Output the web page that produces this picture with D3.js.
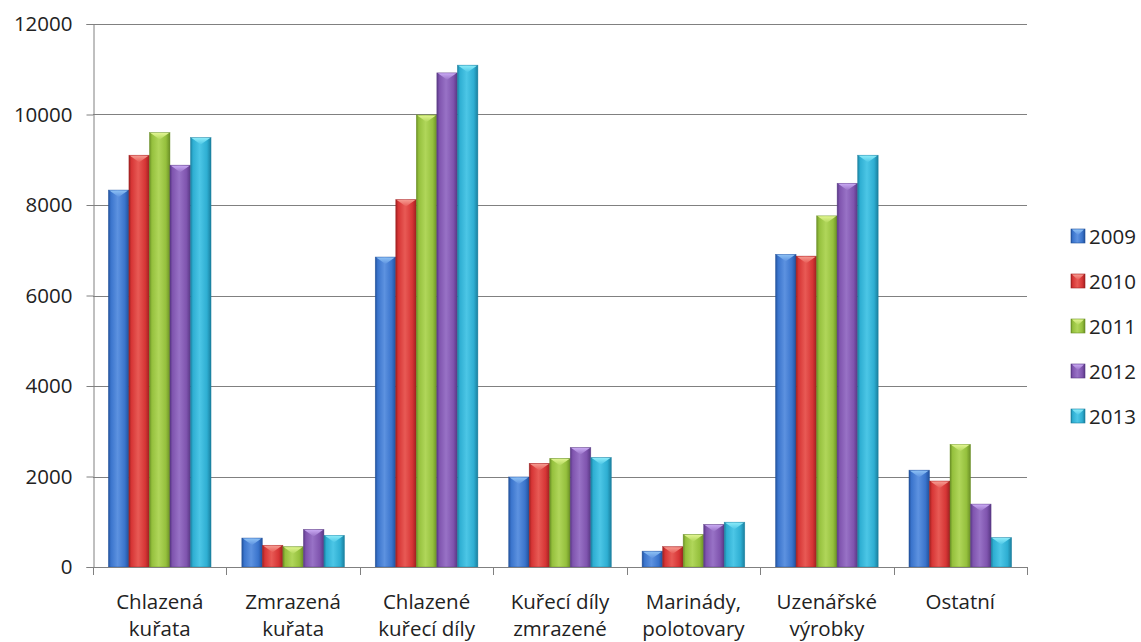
<!DOCTYPE html>
<html>
<head>
<meta charset="utf-8">
<script src="https://cdn.jsdelivr.net/npm/d3@7"></script>
<style>
  html, body { margin: 0; padding: 0; background: #fff; }
  svg text { font-family: "Open Sans", "Noto Sans", sans-serif; fill: #222; }
</style>
</head>
<body>
<svg id="chart" width="1141" height="642"></svg>
<script>
// Product categories (two-line labels)
const categories = [
  ["Chlazená", "kuřata"],
  ["Zmrazená", "kuřata"],
  ["Chlazené", "kuřecí díly"],
  ["Kuřecí díly", "zmrazené"],
  ["Marinády,", "polotovary"],
  ["Uzenářské", "výrobky"],
  ["Ostatní"]
];
const years = ["2009", "2010", "2011", "2012", "2013"];

// Values per year, one entry per category
const v2009 = [8330, 640, 6850, 1990, 350, 6910, 2140];
const v2010 = [9100, 480, 8120, 2290, 450, 6870, 1900];
const v2011 = [9600, 450, 9990, 2400, 720, 7760, 2710];
const v2012 = [8880, 830, 10920, 2640, 940, 8480, 1390];
const v2013 = [9490, 700, 11090, 2420, 990, 9100, 650];

const yTicks = [0, 2000, 4000, 6000, 8000, 10000, 12000];

const seriesValues = [v2009, v2010, v2011, v2012, v2013];
const palette = [
  { base: "#3a74cc", dark: "#21509a", light: "#5d92e0", cap: "#8cc0f4" },
  { base: "#d63535", dark: "#9e2020", light: "#e85a55", cap: "#f59a90" },
  { base: "#95c03d", dark: "#6a8f25", light: "#b0d65a", cap: "#e0f490" },
  { base: "#7f54ae", dark: "#583884", light: "#9872c6", cap: "#c8a8f2" },
  { base: "#2eaed2", dark: "#1a7f9e", light: "#4cc6e6", cap: "#8aeaf8" }
];

const svg = d3.select("#chart");
const plot = { left: 93, right: 1027, top: 24, bottom: 567 };

const x0 = d3.scaleBand()
  .domain(d3.range(categories.length))
  .range([plot.left, plot.right])
  .padding(0);
const x1 = d3.scaleBand()
  .domain(years)
  .range([0, x0.bandwidth()])
  .paddingInner(0)
  .paddingOuter(0.75);
const y = d3.scaleLinear().domain([0, 12000]).range([plot.bottom, plot.top]);

// Gradients for the shaded bars
const defs = svg.append("defs");
palette.forEach((c, i) => {
  const g = defs.append("linearGradient")
    .attr("id", "bar" + i).attr("x1", "0").attr("x2", "1").attr("y1", "0").attr("y2", "0");
  g.append("stop").attr("offset", "0%").attr("stop-color", c.dark);
  g.append("stop").attr("offset", "12%").attr("stop-color", c.base);
  g.append("stop").attr("offset", "45%").attr("stop-color", c.light);
  g.append("stop").attr("offset", "80%").attr("stop-color", c.base);
  g.append("stop").attr("offset", "100%").attr("stop-color", c.dark);
  const cg = defs.append("linearGradient")
    .attr("id", "cap" + i).attr("x1", "0").attr("x2", "0").attr("y1", "0").attr("y2", "1");
  cg.append("stop").attr("offset", "0%").attr("stop-color", c.cap);
  cg.append("stop").attr("offset", "100%").attr("stop-color", c.light);
});

// Gridlines
svg.append("g")
  .selectAll("line")
  .data(yTicks.filter(t => t > 0))
  .join("line")
  .attr("x1", plot.left).attr("x2", plot.right)
  .attr("y1", d => Math.round(y(d)) + 0.5).attr("y2", d => Math.round(y(d)) + 0.5)
  .attr("stroke", "#808080").attr("stroke-width", 1);

// Y axis
const yAxis = svg.append("g")
  .attr("transform", `translate(${plot.left + 0.5},0)`)
  .call(d3.axisLeft(y).tickValues(yTicks).tickSize(7).tickPadding(14).tickFormat(d3.format("d")));
yAxis.select(".domain").attr("stroke", "#808080");
yAxis.selectAll(".tick line").attr("stroke", "#808080");
yAxis.selectAll(".tick text").style("font-size", "20.5px").attr("fill", "#222");

// Bars
const groups = svg.append("g").selectAll("g")
  .data(categories.map((c, ci) => ci))
  .join("g")
  .attr("transform", ci => `translate(${x0(ci)},0)`);

groups.each(function (ci) {
  const g = d3.select(this);
  years.forEach((yr, si) => {
    const v = seriesValues[si][ci];
    const bx = x1(yr);
    const bw = x1.bandwidth();
    const top = y(v);
    const h = y(0) - top;
    g.append("rect")
      .attr("x", bx).attr("y", top)
      .attr("width", bw).attr("height", h)
      .attr("fill", `url(#bar${si})`)
      .attr("stroke", palette[si].dark).attr("stroke-width", 0.6).attr("stroke-opacity", 0.7);
    const capH = Math.min(7, h);
    g.append("path")
      .attr("d", `M${bx + 1},${top + 0.5} L${bx + bw - 1},${top + 0.5} L${bx + bw / 2},${top + capH} Z`)
      .attr("fill", `url(#cap${si})`);
  });
});

// X axis line and category separators
const xAxisG = svg.append("g");
xAxisG.append("line")
  .attr("x1", plot.left).attr("x2", plot.right)
  .attr("y1", plot.bottom + 0.5).attr("y2", plot.bottom + 0.5)
  .attr("stroke", "#808080");
xAxisG.selectAll("line.sep")
  .data(d3.range(categories.length + 1))
  .join("line")
  .attr("class", "sep")
  .attr("x1", i => Math.round(plot.left + i * x0.step()) + 0.5)
  .attr("x2", i => Math.round(plot.left + i * x0.step()) + 0.5)
  .attr("y1", plot.bottom).attr("y2", plot.bottom + 8)
  .attr("stroke", "#808080");

// Category labels
const lab = svg.append("g").selectAll("text")
  .data(categories.map((c, i) => ({ lines: c, i })))
  .join("text")
  .attr("text-anchor", "middle")
  .style("font-size", "20.5px")
  .attr("x", d => x0(d.i) + x0.bandwidth() / 2);
lab.each(function (d) {
  d3.select(this).selectAll("tspan")
    .data(d.lines)
    .join("tspan")
    .attr("x", x0(d.i) + x0.bandwidth() / 2)
    .attr("y", (t, k) => 609 + k * 27)
    .text(t => t);
});

// Legend
const legend = svg.append("g").attr("transform", "translate(1071,0)");
years.forEach((yr, i) => {
  const cy = 236 + i * 45;
  legend.append("rect")
    .attr("x", 0).attr("y", cy - 7).attr("width", 14).attr("height", 14)
    .attr("fill", `url(#bar${i})`).attr("stroke", palette[i].dark).attr("stroke-width", 0.6);
  legend.append("path")
    .attr("d", `M1,${cy - 6.5} L13,${cy - 6.5} L7,${cy - 1} Z`)
    .attr("fill", `url(#cap${i})`);
  legend.append("text")
    .attr("x", 18).attr("y", cy + 7.5)
    .style("font-size", "20.5px")
    .text(yr);
});
</script>
</body>
</html>
